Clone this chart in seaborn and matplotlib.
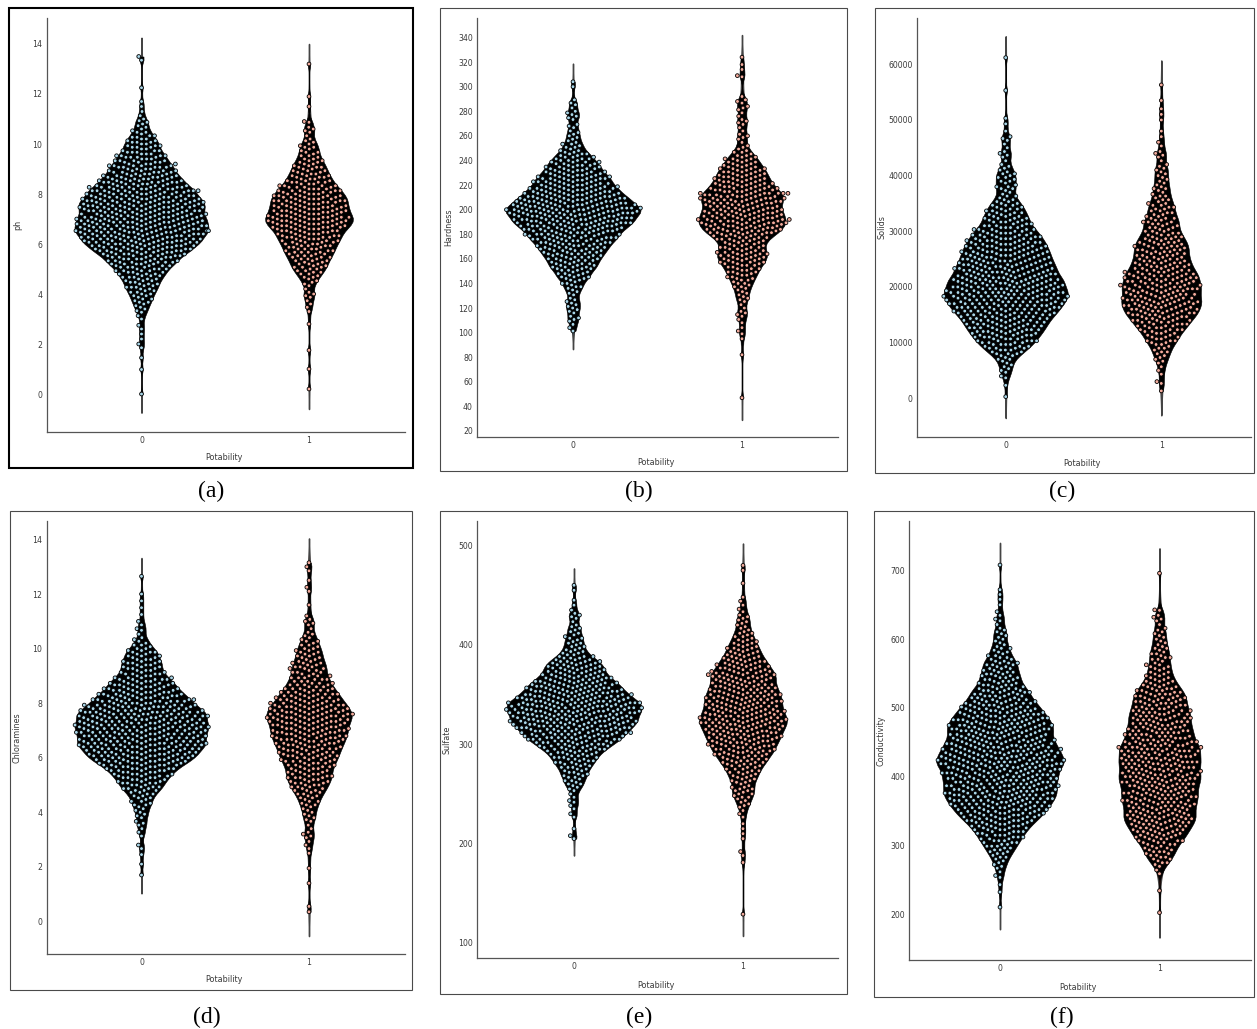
"""Six violin + swarm panels, water potability features."""
import warnings

import matplotlib
matplotlib.use("Agg")
import matplotlib.pyplot as plt
from matplotlib.patches import Rectangle
import numpy as np
import pandas as pd
import seaborn as sns

warnings.filterwarnings("ignore")

W, H = 1257, 1029

# each series: value levels with how many points sit at each (estimated from the swarm's width
# at that height, single points cannot be told apart), plus the lone points in the tails
ph_levels = [3.0, 3.07, 3.13, 3.2, 3.27, 3.33, 3.4, 3.47, 3.53, 3.6, 3.67, 3.73, 3.8, 3.87, 3.93,
             4.0, 4.07, 4.13, 4.2, 4.27, 4.33, 4.4, 4.47, 4.53, 4.6, 4.67, 4.73, 4.8, 4.87, 4.93,
             5.0, 5.07, 5.13, 5.2, 5.27, 5.33, 5.4, 5.47, 5.53, 5.6, 5.67, 5.73, 5.8, 5.87, 5.93,
             6.0, 6.07, 6.13, 6.2, 6.27, 6.33, 6.4, 6.47, 6.53, 6.6, 6.67, 6.73, 6.8, 6.87, 6.93,
             7.0, 7.07, 7.13, 7.2, 7.27, 7.33, 7.4, 7.47, 7.53, 7.6, 7.67, 7.73, 7.8, 7.87, 7.93,
             8.0, 8.07, 8.13, 8.2, 8.27, 8.33, 8.4, 8.47, 8.53, 8.6, 8.67, 8.73, 8.8, 8.87, 8.93,
             9.0, 9.07, 9.13, 9.2, 9.27, 9.33, 9.4, 9.47, 9.53, 9.6, 9.67, 9.73, 9.8, 9.87, 9.93,
             10.0, 10.07, 10.13, 10.2, 10.27, 10.33, 10.4, 10.47, 10.53, 10.6, 10.67, 10.73, 10.8, 10.87, 10.93,
             11.0, 11.07, 11.13]
ph_0_counts = [1, 0, 1, 0, 1, 1, 1, 1, 1, 1, 2, 1, 2, 1, 2, 2, 2, 2, 2, 3, 2, 3, 2, 3, 3, 3, 3, 4, 3, 4, 4, 4, 4,
               5, 6, 4, 6, 5, 6, 7, 6, 7, 8, 7, 8, 8, 9, 8, 10, 8, 9, 9, 10, 10, 10, 9, 10, 9, 10, 9, 10, 9, 9,
               9, 8, 10, 8, 10, 9, 9, 9, 9, 9, 8, 8, 8, 7, 9, 7, 8, 6, 6, 7, 6, 6, 5, 6, 5, 5, 5, 4, 5, 5, 4, 4, 4,
               3, 4, 4, 3, 3, 3, 2, 3, 3, 2, 3, 2, 2, 2, 2, 1, 2, 1, 1, 1, 1, 1, 1, 1, 1, 0, 1]
ph_1_counts = [0, 0, 0, 0, 0, 0, 0, 1, 0, 1, 0, 1, 0, 1, 1, 1, 1, 0, 1, 0, 1, 1, 1, 1, 1, 2, 1, 2, 2, 2, 2, 3, 2,
               3, 2, 3, 3, 3, 3, 3, 4, 3, 4, 3, 4, 4, 4, 4, 4, 5, 4, 5, 4, 5, 5, 6, 5, 6, 6, 6, 6, 7, 5, 6, 5, 6,
               5, 6, 5, 5, 5, 6, 5, 5, 5, 5, 4, 5, 4, 4, 4, 3, 4, 3, 3, 3, 3, 3, 2, 3, 2, 3, 2, 2, 2, 2, 2, 1, 2,
               1, 2, 1, 1, 2, 1, 1, 1, 1, 1, 0, 1, 0, 1, 1, 1, 1, 0, 0, 1, 0, 0, 0, 0]
ph_0_tails = [13.5, 13.35, 12.25, 11.7, 11.5, 11.3, 2.75, 2.6, 2.4, 2.2, 2.0, 1.85, 1.45, 0.98, 0.0]
ph_1_tails = [13.2, 11.9, 11.5, 10.9, 3.3, 2.8, 1.75, 1.0, 0.2]

hard_levels = [100, 101.3, 102.7, 104, 105.3, 106.7, 108, 109.3, 110.7, 112, 113.3, 114.7, 116, 117.3, 118.7,
               120, 121.3, 122.7, 124, 125.3, 126.7, 128, 129.3, 130.7, 132, 133.3, 134.7, 136, 137.3, 138.7,
               140, 141.3, 142.7, 144, 145.3, 146.7, 148, 149.3, 150.7, 152, 153.3, 154.7, 156, 157.3, 158.7,
               160, 161.3, 162.7, 164, 165.3, 166.7, 168, 169.3, 170.7, 172, 173.3, 174.7, 176, 177.3, 178.7,
               180, 181.3, 182.7, 184, 185.3, 186.7, 188, 189.3, 190.7, 192, 193.3, 194.7, 196, 197.3, 198.7,
               200, 201.3, 202.7, 204, 205.3, 206.7, 208, 209.3, 210.7, 212, 213.3, 214.7, 216, 217.3, 218.7,
               220, 221.3, 222.7, 224, 225.3, 226.7, 228, 229.3, 230.7, 232, 233.3, 234.7, 236, 237.3, 238.7,
               240, 241.3, 242.7, 244, 245.3, 246.7, 248, 249.3, 250.7, 252, 253.3, 254.7, 256, 257.3, 258.7,
               260, 261.3, 262.7, 264, 265.3, 266.7, 268, 269.3, 270.7, 272, 273.3, 274.7, 276, 277.3, 278.7,
               280, 281.3, 282.7, 284, 285.3, 286.7, 288, 289.3, 290.7]
hard_0_counts = [0, 1, 0, 1, 0, 1, 0, 1, 1, 1, 1, 0, 1, 1, 1, 1, 1, 1, 1, 1, 1, 1, 0, 1, 1, 1, 1, 1, 2, 1, 2, 1, 2,
                 2, 3, 2, 3, 2, 3, 3, 4, 3, 4, 3, 4, 4, 4, 4, 5, 4, 5, 5, 5, 5, 6, 5, 6, 6, 7, 6, 7, 6, 7, 8, 7, 8,
                 8, 9, 8, 10, 8, 9, 9, 10, 10, 10, 9, 10, 9, 8, 9, 8, 8, 8, 7, 7, 7, 6, 7, 6, 6, 5, 6, 5, 6, 5,
                 5, 4, 5, 4, 4, 4, 4, 3, 4, 3, 3, 3, 2, 3, 2, 2, 1, 2, 1, 2, 1, 1, 1, 1, 1, 1, 1, 1, 0, 1, 1, 1, 0,
                 0, 1, 1, 1, 1, 1, 1, 0, 1, 0, 1, 1, 0, 1, 0]
hard_1_counts = [0, 1, 0, 1, 0, 0, 1, 0, 1, 0, 1, 1, 1, 1, 0, 1, 0, 1, 0, 1, 1, 1, 1, 1, 1, 1, 1, 1, 2, 1, 2, 1, 2,
                 2, 2, 2, 2, 3, 2, 3, 2, 3, 3, 4, 3, 4, 3, 4, 4, 4, 3, 3, 4, 3, 3, 3, 4, 4, 4, 4, 5, 6, 5, 6, 6, 6,
                 6, 7, 6, 7, 6, 6, 6, 6, 6, 6, 5, 6, 5, 6, 6, 6, 6, 6, 6, 7, 5, 5, 5, 5, 4, 5, 4, 4, 4, 4, 4, 3, 4,
                 3, 4, 3, 3, 2, 3, 2, 3, 2, 2, 1, 2, 1, 1, 1, 1, 0, 1, 0, 1, 1, 1, 1, 0, 1, 0, 1, 0, 1, 1, 1, 1, 0,
                 1, 0, 1, 0, 1, 1, 1, 0, 1, 1, 1, 0]
hard_0_tails = [304, 300]
hard_1_tails = [47, 82, 95, 99, 292, 308, 309, 314, 318, 324]

solids_levels = [1000, 1330, 1670, 2000, 2330, 2670, 3000, 3330, 3670, 4000, 4330, 4670, 5000, 5330, 5670,
                 6000, 6330, 6670, 7000, 7330, 7670, 8000, 8330, 8670, 9000, 9330, 9670, 10000, 10330, 10670,
                 11000, 11330, 11670, 12000, 12330, 12670, 13000, 13330, 13670, 14000, 14330, 14670, 15000, 15330, 15670,
                 16000, 16330, 16670, 17000, 17330, 17670, 18000, 18330, 18670, 19000, 19330, 19670, 20000, 20330, 20670,
                 21000, 21330, 21670, 22000, 22330, 22670, 23000, 23330, 23670, 24000, 24330, 24670, 25000, 25330, 25670,
                 26000, 26330, 26670, 27000, 27330, 27670, 28000, 28330, 28670, 29000, 29330, 29670, 30000, 30330, 30670,
                 31000, 31330, 31670, 32000, 32330, 32670, 33000, 33330, 33670, 34000, 34330, 34670, 35000, 35330, 35670,
                 36000, 36330, 36670, 37000, 37330, 37670, 38000, 38330, 38670, 39000, 39330, 39670, 40000, 40330, 40670,
                 41000, 41330, 41670, 42000, 42330, 42670, 43000, 43330, 43670, 44000, 44330, 44670, 45000, 45330, 45670,
                 46000, 46330, 46670]
solids_0_counts = [0, 0, 0, 0, 1, 0, 0, 0, 1, 1, 0, 1, 1, 1, 1, 1, 1, 1, 2, 1, 2, 3, 2, 3, 4, 3, 4, 4, 5, 4,
                   5, 5, 5, 6, 5, 6, 6, 6, 6, 7, 6, 7, 7, 8, 7, 8, 8, 8, 9, 8, 9, 9, 9, 9, 10, 8, 9, 9, 8, 9,
                   8, 9, 8, 8, 7, 8, 7, 8, 7, 7, 7, 7, 7, 6, 7, 6, 7, 6, 6, 6, 6, 6, 5, 6, 5, 5, 5, 4, 5, 4,
                   4, 3, 4, 3, 4, 3, 3, 3, 3, 3, 2, 3, 2, 2, 2, 1, 2, 1, 1, 1, 2, 2, 1, 1, 2, 1, 2, 1, 2, 1,
                   1, 1, 1, 1, 0, 1, 0, 1, 1, 1, 1, 0, 1, 0, 1, 0, 1, 1]
solids_1_counts = [0, 1, 0, 0, 0, 1, 1, 0, 0, 0, 1, 0, 1, 0, 1, 0, 1, 1, 1, 1, 1, 1, 2, 1, 2, 1, 2, 2, 3, 2,
                   3, 2, 3, 3, 4, 3, 4, 4, 4, 5, 4, 5, 5, 6, 5, 6, 5, 6, 6, 6, 6, 6, 5, 6, 5, 6, 6, 6, 6, 5,
                   6, 5, 6, 5, 6, 5, 5, 4, 5, 4, 5, 4, 4, 4, 4, 4, 4, 4, 4, 4, 4, 4, 3, 4, 3, 3, 3, 3, 2, 3,
                   2, 3, 3, 2, 3, 2, 2, 2, 2, 2, 2, 2, 2, 1, 2, 1, 2, 1, 1, 1, 2, 1, 1, 1, 1, 1, 1, 1, 1, 1,
                   1, 1, 1, 1, 0, 1, 0, 1, 1, 1, 1, 0, 0, 1, 0, 1, 0, 0]
solids_0_tails = [61200, 55300, 50300, 49300, 48000, 47000, 300]
solids_1_tails = [56300, 53500, 52000, 51000, 50000, 48000, 47000]

chlor_levels = [2.6, 2.67, 2.73, 2.8, 2.87, 2.93, 3.0, 3.07, 3.13, 3.2, 3.27, 3.33, 3.4, 3.47, 3.53,
                3.6, 3.67, 3.73, 3.8, 3.87, 3.93, 4.0, 4.07, 4.13, 4.2, 4.27, 4.33, 4.4, 4.47, 4.53,
                4.6, 4.67, 4.73, 4.8, 4.87, 4.93, 5.0, 5.07, 5.13, 5.2, 5.27, 5.33, 5.4, 5.47, 5.53,
                5.6, 5.67, 5.73, 5.8, 5.87, 5.93, 6.0, 6.07, 6.13, 6.2, 6.27, 6.33, 6.4, 6.47, 6.53,
                6.6, 6.67, 6.73, 6.8, 6.87, 6.93, 7.0, 7.07, 7.13, 7.2, 7.27, 7.33, 7.4, 7.47, 7.53,
                7.6, 7.67, 7.73, 7.8, 7.87, 7.93, 8.0, 8.07, 8.13, 8.2, 8.27, 8.33, 8.4, 8.47, 8.53,
                8.6, 8.67, 8.73, 8.8, 8.87, 8.93, 9.0, 9.07, 9.13, 9.2, 9.27, 9.33, 9.4, 9.47, 9.53,
                9.6, 9.67, 9.73, 9.8, 9.87, 9.93, 10.0, 10.07, 10.13, 10.2, 10.27, 10.33, 10.4, 10.47, 10.53,
                10.6, 10.67, 10.73, 10.8, 10.87, 10.93, 11.0, 11.07, 11.13]
chlor_0_counts = [0,1,0, 1,0,0, 0,0,1, 0,1,0, 1,0,1, 1,1,0, 1,1,1, 1,1,1, 1,2,1, 2,1,2,
                  2,2,2, 3,3,3, 3,4,3, 4,4,4, 5,4,5, 6,5,6, 7,7,7, 8,8,8, 9,8,9, 9,10,9,
                  10,9,9, 10,9,10, 9,10,10, 10,10,9, 9,10,10, 9,10,9, 8,9,8, 7,8,7, 7,6,7, 6,5,6,
                  5,5,5, 4,5,4, 3,4,3, 3,3,3, 3,3,3, 3,2,3, 2,3,2, 2,1,2, 1,1,1, 1,0,1,
                  0,1,1, 0,1,0, 1,0,0]
chlor_1_counts = [0,1,0, 1,0,1, 0,1,1, 1,1,0, 1,0,1, 0,1,1, 1,1,1, 1,1,1, 1,2,1, 2,1,2,
                  2,2,2, 3,2,3, 3,3,3, 3,4,3, 4,3,3, 4,3,4, 4,4,4, 4,5,4, 5,4,5, 5,5,5,
                  5,6,5, 6,5,6, 6,6,5, 6,6,6, 6,7,6, 7,6,6, 6,6,6, 5,5,5, 5,4,5, 4,4,4,
                  3,4,3, 3,3,3, 3,2,3, 2,3,3, 2,3,2, 2,2,2, 2,2,2, 2,1,2, 1,2,1, 1,1,1,
                  1,0,1, 0,1,1, 1,1,0]
chlor_0_tails = [12.65, 12.0, 11.75, 11.5, 11.25, 2.45, 2.1, 1.7]
chlor_1_tails = [13.15, 13.0, 12.85, 12.5, 12.25, 12.1, 11.6, 11.2, 2.5, 1.95, 1.4, 0.55, 0.35]

sulf_levels = [225, 226.7, 228.3, 230, 231.7, 233.3, 235, 236.7, 238.3, 240, 241.7, 243.3, 245, 246.7, 248.3,
               250, 251.7, 253.3, 255, 256.7, 258.3, 260, 261.7, 263.3, 265, 266.7, 268.3, 270, 271.7, 273.3,
               275, 276.7, 278.3, 280, 281.7, 283.3, 285, 286.7, 288.3, 290, 291.7, 293.3, 295, 296.7, 298.3,
               300, 301.7, 303.3, 305, 306.7, 308.3, 310, 311.7, 313.3, 315, 316.7, 318.3, 320, 321.7, 323.3,
               325, 326.7, 328.3, 330, 331.7, 333.3, 335, 336.7, 338.3, 340, 341.7, 343.3, 345, 346.7, 348.3,
               350, 351.7, 353.3, 355, 356.7, 358.3, 360, 361.7, 363.3, 365, 366.7, 368.3, 370, 371.7, 373.3,
               375, 376.7, 378.3, 380, 381.7, 383.3, 385, 386.7, 388.3, 390, 391.7, 393.3, 395, 396.7, 398.3,
               400, 401.7, 403.3, 405, 406.7, 408.3, 410, 411.7, 413.3, 415, 416.7, 418.3, 420, 421.7, 423.3,
               425, 426.7, 428.3, 430, 431.7, 433.3]
sulf_0_counts = [0,1,0, 1,0,0, 1,0,1, 0,1,1, 0,1,0, 1,0,1, 1,1,1, 2,1,2, 1,2,2, 2,2,2,
                 2,3,2, 3,3,3, 3,4,3, 4,4,4, 5,5,5, 6,6,6, 7,7,7, 8,7,8, 8,9,8, 9,9,9,
                 10,9,9, 9,10,10, 10,9,10, 10,10,9, 9,8,9, 8,7,8, 7,7,7, 6,7,6, 5,6,5, 5,4,5,
                 4,5,4, 4,4,4, 3,3,3, 2,2,2, 2,1,2, 1,2,1, 1,2,1, 1,1,1, 1,1,1, 1,0,1,
                 0,1,1, 1,1,0]
sulf_1_counts = [0,1,0, 1,0,1, 0,1,1, 1,1,1, 1,2,1, 2,1,2, 2,2,1, 1,2,2, 2,2,2, 2,3,2,
                 3,2,3, 3,4,3, 4,3,4, 4,5,4, 5,4,5, 5,5,5, 5,6,5, 6,5,6, 6,6,6, 6,7,6,
                 7,6,6, 6,6,6, 6,5,6, 5,6,6, 5,6,5, 6,5,5, 5,5,5, 5,4,5, 4,5,5, 5,5,4,
                 4,4,4, 4,3,4, 3,3,3, 3,2,3, 2,3,2, 2,2,2, 2,1,2, 1,2,1, 1,1,1, 1,1,1,
                 1,1,1, 1,0,1]
sulf_0_tails = [460, 455, 445, 440, 435, 215, 208, 205]
sulf_1_tails = [480, 475, 462, 448, 444, 440, 436, 220, 215, 210, 205, 192, 188, 181, 129]

cond_levels = [240, 242.7, 245.3, 248, 250.7, 253.3, 256, 258.7, 261.3, 264, 266.7, 269.3, 272, 274.7, 277.3,
               280, 282.7, 285.3, 288, 290.7, 293.3, 296, 298.7, 301.3, 304, 306.7, 309.3, 312, 314.7, 317.3,
               320, 322.7, 325.3, 328, 330.7, 333.3, 336, 338.7, 341.3, 344, 346.7, 349.3, 352, 354.7, 357.3,
               360, 362.7, 365.3, 368, 370.7, 373.3, 376, 378.7, 381.3, 384, 386.7, 389.3, 392, 394.7, 397.3,
               400, 402.7, 405.3, 408, 410.7, 413.3, 416, 418.7, 421.3, 424, 426.7, 429.3, 432, 434.7, 437.3,
               440, 442.7, 445.3, 448, 450.7, 453.3, 456, 458.7, 461.3, 464, 466.7, 469.3, 472, 474.7, 477.3,
               480, 482.7, 485.3, 488, 490.7, 493.3, 496, 498.7, 501.3, 504, 506.7, 509.3, 512, 514.7, 517.3,
               520, 522.7, 525.3, 528, 530.7, 533.3, 536, 538.7, 541.3, 544, 546.7, 549.3, 552, 554.7, 557.3,
               560, 562.7, 565.3, 568, 570.7, 573.3, 576, 578.7, 581.3, 584, 586.7, 589.3, 592, 594.7, 597.3,
               600, 602.7, 605.3, 608, 610.7, 613.3, 616, 618.7, 621.3, 624, 626.7, 629.3, 632, 634.7, 637.3,
               640, 642.7, 645.3]
cond_0_counts = [0,1,0, 0,0,1, 1,0,1, 0,1,1, 1,1,1, 1,2,1, 2,2,2, 2,3,2, 3,3,3, 3,4,3,
                 4,4,4, 5,4,5, 6,5,6, 6,7,6, 7,7,7, 8,7,8, 8,8,8, 9,8,8, 8,9,8, 8,8,9,
                 8,9,8, 9,8,9, 9,10,9, 10,9,9, 9,9,9, 8,9,8, 8,8,8, 8,7,8, 7,8,8, 8,8,7,
                 7,8,7, 7,6,7, 6,6,6, 5,6,5, 5,4,5, 4,5,4, 4,3,4, 3,3,3, 3,3,3, 3,2,3,
                 2,3,3, 2,2,2, 2,1,2, 1,2,1, 1,1,1, 1,1,1, 1,1,1, 1,0,1, 0,1,1, 0,1,0,
                 1,0,0]
cond_1_counts = [0,0,0, 0,0,0, 0,1,0, 1,0,1, 1,2,1, 2,2,2, 2,3,2, 3,2,3, 3,4,3, 4,4,4,
                 4,5,4, 5,5,5, 5,6,5, 6,5,5, 5,5,6, 5,6,5, 6,5,6, 6,6,5, 5,6,6, 6,6,6,
                 6,7,5, 6,6,6, 5,7,6, 6,6,6, 6,5,7, 6,6,6, 5,6,5, 5,5,5, 5,5,5, 5,4,5,
                 4,5,5, 4,5,4, 5,4,4, 4,4,4, 4,4,4, 4,3,4, 3,3,3, 2,3,2, 2,2,2, 2,1,2,
                 2,2,1, 1,2,2, 1,2,1, 1,2,1, 1,1,1, 1,1,1, 1,1,1, 1,0,1, 0,1,1, 1,1,0,
                 0,1,0]
cond_0_tails = [708, 672, 665, 658, 650, 232, 210]
cond_1_tails = [696, 642, 234, 202]

# name, data, y ticks, pixel box of the axes, x pixel of cat 0 and 1, two y calibration points (value, pixel)
PANELS = [
    dict(name="ph", levels=ph_levels, c0=ph_0_counts, c1=ph_1_counts, t0=ph_0_tails, t1=ph_1_tails,
         ticks=[0, 2, 4, 6, 8, 10, 12, 14], box=(46.5, 404.5, 18, 432), cats=(141.5, 309), sil=(0.8, 0.525),
         cal=(0, 394, 14, 44), frame=(9, 413, 8, 468), lab=(22, 453), cap=(211, 491, "(a)")),
    dict(name="Hardness", levels=hard_levels, c0=hard_0_counts, c1=hard_1_counts, t0=hard_0_tails, t1=hard_1_tails,
         ticks=list(range(20, 341, 20)), box=(477, 838, 18, 436.5), cats=(573, 742), sil=(0.8, 0.515),
         cal=(20, 431, 340, 37.5), frame=(439.5, 846.5, 8, 471.5), lab=(453, 458), cap=(639, 491, "(b)")),
    dict(name="Solids", levels=solids_levels, c0=solids_0_counts, c1=solids_1_counts, t0=solids_0_tails, t1=solids_1_tails,
         ticks=[0, 10000, 20000, 30000, 40000, 50000, 60000], box=(917, 1250.5, 18, 437), cats=(1005.7, 1161.3),
         sil=(0.8, 0.515), cal=(0, 398.3, 60000, 64.3), frame=(874.7, 1254, 8, 472.5), lab=(886, 459), cap=(1062, 491, "(c)")),
    dict(name="Chloramines", levels=chlor_levels, c0=chlor_0_counts, c1=chlor_1_counts, t0=chlor_0_tails, t1=chlor_1_tails,
         ticks=[0, 2, 4, 6, 8, 10, 12, 14], box=(46.5, 404.5, 521, 954), cats=(141.5, 309), sil=(0.8, 0.51),
         cal=(0, 921.4, 14, 539.5), frame=(9.5, 412, 511, 990), lab=(22, 975), cap=(207, 1017, "(d)")),
    dict(name="Sulfate", levels=sulf_levels, c0=sulf_0_counts, c1=sulf_1_counts, t0=sulf_0_tails, t1=sulf_1_tails,
         ticks=[100, 200, 300, 400, 500], box=(477, 838, 521, 958), cats=(574, 743), sil=(0.8, 0.52),
         cal=(100, 943, 500, 545.5), frame=(440, 847, 511, 994), lab=(452, 981), cap=(639, 1017, "(e)")),
    dict(name="Conductivity", levels=cond_levels, c0=cond_0_counts, c1=cond_1_counts, t0=cond_0_tails, t1=cond_1_tails,
         ticks=[200, 300, 400, 500, 600, 700], box=(909, 1251, 521, 960), cats=(1000, 1159.5), sil=(0.8, 0.515),
         cal=(200, 914, 700, 570.5), frame=(874.3, 1254, 511, 997), lab=(886, 983), cap=(1062, 1017, "(f)")),
]

BLUE, RED = "#2f9fd6", "#d9402b"
POINT_BLUE, POINT_RED = "#a9d6e8", "#f3ab9c"
INK = "#3a3a3a"

sns.set_theme(style="white")
plt.rcParams.update({"font.family": ["DejaVu Sans"], "axes.edgecolor": "#555555", "axes.linewidth": 0.9,
                     "text.color": INK, "axes.labelcolor": INK, "xtick.color": INK, "ytick.color": INK})


def long_table(p):
    v0 = np.r_[np.repeat(p["levels"], p["c0"]), p["t0"]]
    v1 = np.r_[np.repeat(p["levels"], p["c1"]), p["t1"]]
    return pd.DataFrame({"Potability": ["0"] * len(v0) + ["1"] * len(v1), p["name"]: np.r_[v0, v1]})


def draw_panel(fig, p):
    left, right, top, bottom = p["box"]
    ax = fig.add_axes([left / W, 1 - bottom / H, (right - left) / W, (bottom - top) / H])
    df = long_table(p)
    name = p["name"]
    order = ["0", "1"]

    # x and y limits out of the pixel calibration
    per_cat = p["cats"][1] - p["cats"][0]
    xlim = ((left - p["cats"][0]) / per_cat, (right - p["cats"][0]) / per_cat)
    v0, px0, v1, px1 = p["cal"]
    per_val = (px0 - px1) / (v1 - v0)
    ylim = (v0 - (bottom - px0) / per_val, v0 + (px0 - top) / per_val)

    # long thin violin, then black silhouette, then the points
    sns.violinplot(data=df, x="Potability", y=name, hue="Potability", palette=[BLUE, RED], order=order,
                   hue_order=order, inner=None, density_norm="width", width=0.3, cut=2, bw_adjust=0.75,
                   linewidth=1.0, linecolor="#444444", legend=False, saturation=1, ax=ax)
    for cat, sil in zip(order, p["sil"]):
        sns.violinplot(data=df[df["Potability"] == cat], x="Potability", y=name, color="black", order=order,
                       inner=None, density_norm="width", width=sil, cut=0, bw_adjust=0.3, linewidth=0.4,
                       linecolor="black", saturation=1, ax=ax)
    ax.set_xlim(*xlim)
    ax.set_ylim(*ylim)
    sns.swarmplot(data=df, x="Potability", y=name, hue="Potability", palette=[POINT_BLUE, POINT_RED],
                  order=order, hue_order=order, size=2.7, linewidth=0.6, edgecolor="black",
                  legend=False, zorder=3, ax=ax)

    ax.set_xlim(*xlim)
    ax.set_ylim(*ylim)
    ax.set_yticks(p["ticks"])
    ax.tick_params(axis="both", direction="in", length=2.6, width=0.7, labelsize=5.6, pad=3)
    sns.despine(ax=ax)
    ax.set_xlabel("Potability", fontsize=5.8)
    ax.set_ylabel(name, fontsize=5.8)
    lab_x, lab_y = p["lab"]
    ax.yaxis.set_label_coords((lab_x - left) / (right - left), 0.5)
    ax.xaxis.set_label_coords(0.495, (bottom - lab_y) / (bottom - top))

    # box round the panel
    fl, fr, ft, fb = p["frame"]
    thick = p["cap"][2] == "(a)"
    fig.add_artist(Rectangle((fl / W, 1 - fb / H), (fr - fl) / W, (fb - ft) / H, transform=fig.transFigure,
                             fill=False, ec="black" if thick else "#4a4a4a", lw=1.5 if thick else 0.8))
    cx, cy, cap = p["cap"]
    fig.text(cx / W, 1 - cy / H, cap, ha="center", va="center", color="black", fontsize=17,
             family="Liberation Serif")


fig = plt.figure(figsize=(W / 100, H / 100), dpi=100, facecolor="white")
for panel in PANELS:
    draw_panel(fig, panel)
fig.savefig("out.png", dpi=100)
